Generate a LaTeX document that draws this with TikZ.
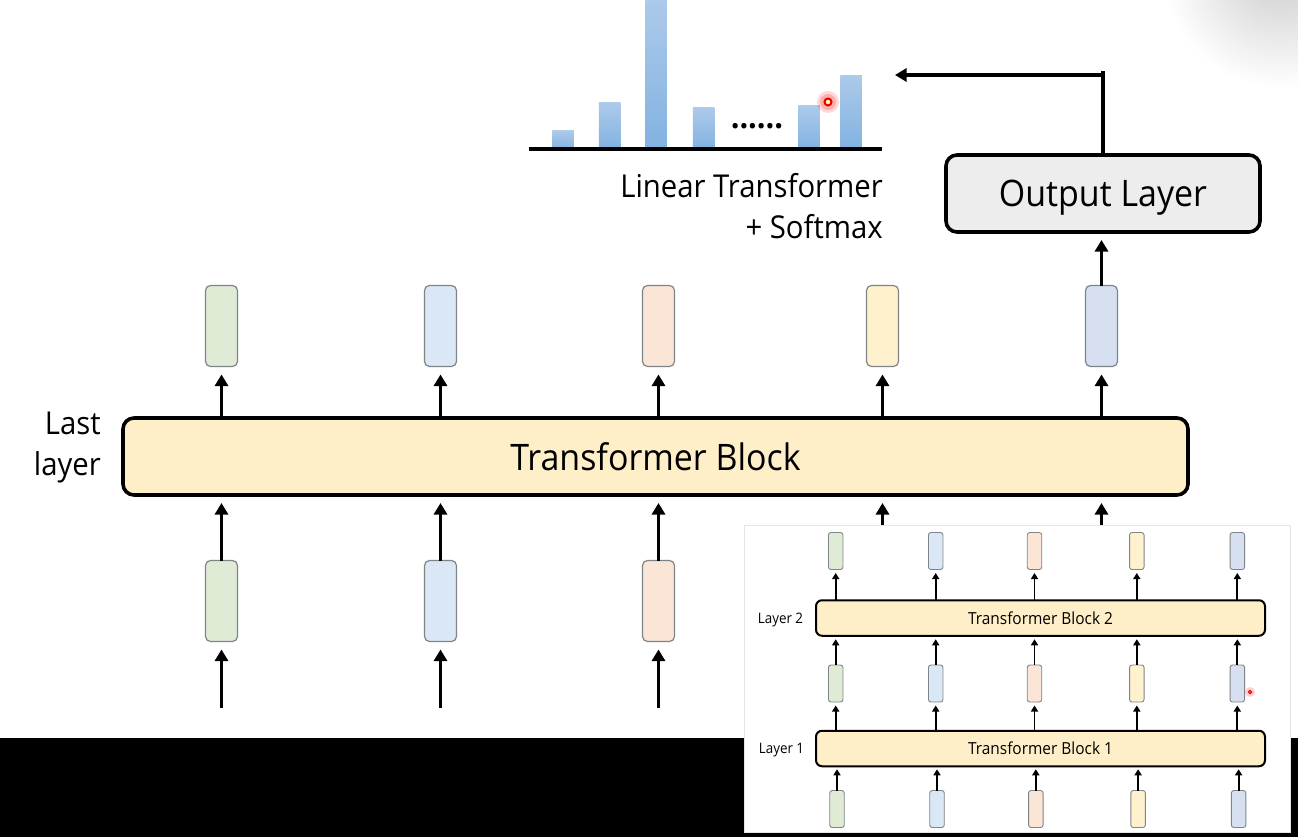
\documentclass[tikz,border=0pt]{standalone}
\usepackage{fontspec}
\setmainfont[FakeStretch=0.93]{Open Sans}
\usetikzlibrary{arrows.meta, positioning}

\definecolor{cellA}{HTML}{E0EBD6}
\definecolor{cellB}{HTML}{DAE7F4}
\definecolor{cellC}{HTML}{FBE5D6}
\definecolor{cellD}{HTML}{FFF1CE}
\definecolor{cellE}{HTML}{D6E0F0}
\definecolor{blockfill}{HTML}{FFEFC8}
\definecolor{outfill}{HTML}{EDEDED}
\definecolor{cellline}{HTML}{7F8488}
\definecolor{bartop}{HTML}{ACCAEA}
\definecolor{barlow}{HTML}{82B2E1}

\begin{document}
\begin{tikzpicture}[x=1pt, y=-1pt,
    cell/.style={draw=cellline, line width=1.2pt, rounded corners=5pt, minimum width=32pt, minimum height=81pt, outer sep=0pt},
    minicell/.style={draw=cellline, line width=0.9pt, rounded corners=2.5pt, minimum width=14.5pt, minimum height=37pt, outer sep=0pt},
    block/.style={draw=black, line width=3.6pt, fill=blockfill, rounded corners=11pt, outer sep=0pt, inner sep=0pt},
    miniblock/.style={draw=black, line width=2pt, fill=blockfill, rounded corners=6pt, outer sep=0pt, inner sep=0pt},
    bar/.style={anchor=south, minimum width=21.5pt, inner sep=0pt, outer sep=0pt, top color=bartop, bottom color=barlow},
    uparrow/.style={-{Triangle[width=13pt,length=11.5pt]}, line width=3.4pt},
    miniarrow/.style={-{Triangle[width=7pt,length=6pt]}, line width=1.8pt},
    bigtext/.style={font=\fontsize{36.5}{44}\selectfont},
    midtext/.style={font=\fontsize{31.5}{38}\selectfont},
    minitext/.style={font=\fontsize{16.6}{20}\selectfont},
    smalltext/.style={font=\fontsize{14.4}{18}\selectfont}]
    \useasboundingbox (0,0) rectangle (1298,837);
    \fill[white] (0,0) rectangle (1298,837);

    % Soft patch behind the video logo
    \begin{scope}
        \clip (1000,0) rectangle (1298,90);
        \shade[inner color=black!20, outer color=white] (1280,-30) circle (118pt);
    \end{scope}

    % Main stack
    \node[block, minimum width=1065pt, minimum height=77pt, bigtext] (block) at (655.5,456.5) {Transformer Block};
    \node[midtext, anchor=base east, inner sep=0pt] (lastA) at (101,434) {Last};
    \node[midtext, anchor=base east, inner sep=0pt] (lastB) at (101,475) {layer};
    \foreach \n/\cx/\col in {1/221.5/cellA, 2/440.5/cellB, 3/658.5/cellC, 4/882.5/cellD, 5/1101.5/cellE} {
        \node[cell, fill=\col] (top\n) at (\cx,326) {};
        \draw[uparrow, shorten >=8pt] (top\n |- block.north) -- (top\n.south);
    }
    \foreach \n/\cx/\col in {1/221.5/cellA, 2/440.5/cellB, 3/658.5/cellC} {
        \node[cell, fill=\col] (low\n) at (\cx,601) {};
        \coordinate (in\n) at (\cx,708);
        \draw[uparrow, shorten >=8pt] (low\n.north) -- (low\n |- block.south);
        \draw[uparrow, shorten >=8pt] (in\n) -- (low\n.south);
    }
    % These two run behind the inset
    \foreach \n in {4,5} {
        \coordinate (low\n) at (top\n |- 0,530);
        \draw[uparrow, shorten >=8pt] (low\n) -- (low\n |- block.south);
    }

    % Output layer and distribution
    \node[block, fill=outfill, minimum width=314pt, minimum height=77pt, bigtext, text depth=0pt] (output) at (1103,193.5) {Output Layer};
    \draw[uparrow, shorten >=8pt] (top5.north) -- (top5 |- output.south);
    \coordinate (turn) at (1103,71);
    \coordinate (probs) at (895,75);
    \draw[line width=3.4pt] (output.north) -- (turn);
    \draw[uparrow] (turn |- probs) -- (probs);

    \foreach \n/\bx/\bh in {1/563/18, 2/609.5/46, 3/656/149, 4/703.5/41, 5/809/43, 6/851/73} {
        \node[bar, minimum height=\bh pt] (bar\n) at (\bx,149) {};
    }
    \node[anchor=base, inner sep=0pt, font=\fontsize{33}{38}\selectfont\bfseries] (dots) at (757,129) {......};
    \coordinate (axisL) at (529,149);
    \coordinate (axisR) at (882,149);
    \draw[line width=3.2pt] (axisL) -- (axisR);
    \node[midtext, anchor=base east, inner sep=0pt] (lin) at (883,197.5) {Linear Transformer};
    \node[midtext, anchor=base east, inner sep=0pt] (soft) at (883,238) {+ Softmax};

    % Pointer
    \fill[red, opacity=0.15] (828,102) circle (11pt);
    \fill[red, opacity=0.2] (828,102) circle (8pt);
    \draw[red!90!black, line width=2pt, fill=white!70!yellow] (828,102) circle (3.5pt);

    % Black band and inset
    \fill[black] (0,738) rectangle (1298,837);
    \node[fill=white, draw=black!10, line width=0.8pt, minimum width=546pt, minimum height=307pt, inner sep=0pt, outer sep=0pt] (inset) at (1017,678.5) {};

    \node[miniblock, minimum width=449pt, minimum height=35.5pt, minitext] (blockB) at (1040.5,618) {Transformer Block 2};
    \node[miniblock, minimum width=449pt, minimum height=35.5pt, minitext] (blockA) at (1040.5,748.5) {Transformer Block 1};
    \node[smalltext, anchor=base, inner sep=0pt] (layerB) at (780.5,623) {Layer 2};
    \node[smalltext, anchor=base, inner sep=0pt] (layerA) at (781.5,753) {Layer 1};
    \foreach \n/\cx/\col in {1/835.7/cellA, 2/935.7/cellB, 3/1034.5/cellC, 4/1136.8/cellD, 5/1237.3/cellE} {
        \node[minicell, fill=\col] (mtop\n) at (\cx,551) {};
        \node[minicell, fill=\col] (mmid\n) at (\cx,683.5) {};
        \node[minicell, fill=\col, xshift=1.3pt] (mlow\n) at (\cx,809) {};
        \draw[miniarrow, shorten >=3.5pt] (mtop\n |- blockB.north) -- (mtop\n.south);
        \draw[miniarrow, shorten >=3.5pt] (mmid\n.north) -- (mmid\n |- blockB.south);
        \draw[miniarrow, shorten >=3.5pt] (mmid\n |- blockA.north) -- (mmid\n.south);
        \draw[miniarrow, shorten >=3pt] (mlow\n.north) -- (mlow\n |- blockA.south);
    }
    \fill[red, opacity=0.18] (1250,692) circle (5pt);
    \draw[red!90!black, line width=1.1pt, fill=white!70!yellow] (1250,692) circle (1.7pt);
\end{tikzpicture}
\end{document}
